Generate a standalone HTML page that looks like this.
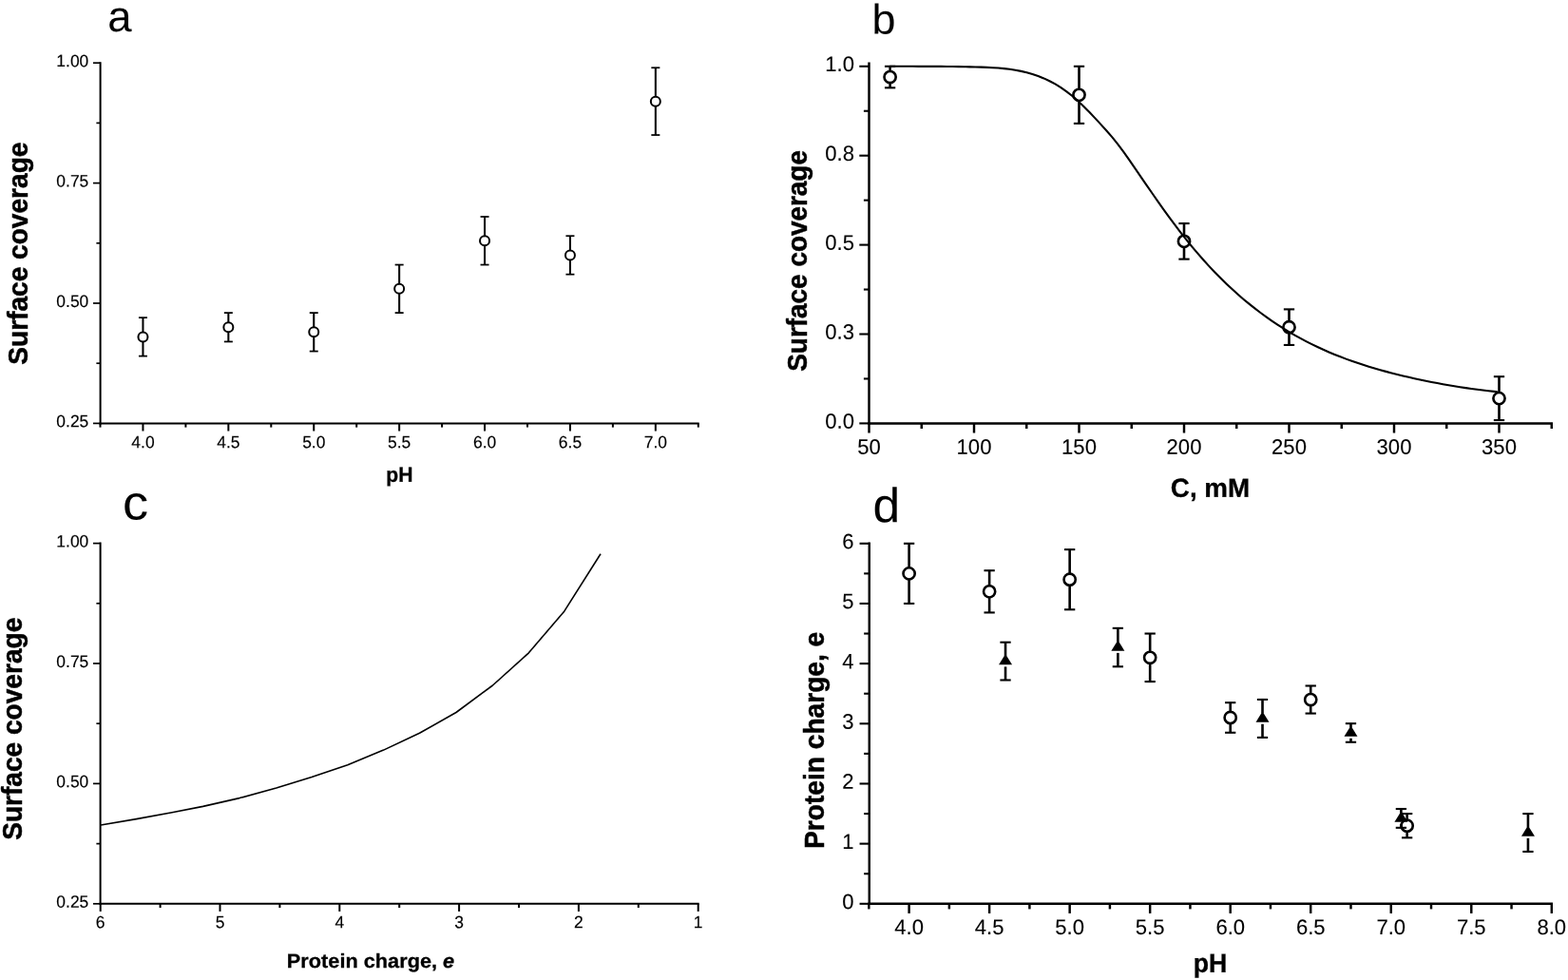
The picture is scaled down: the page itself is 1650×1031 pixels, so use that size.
<!DOCTYPE html>
<html lang="en">
<head>
<meta charset="utf-8">
<title>Surface coverage and protein charge</title>
<style>
html,body{margin:0;padding:0;background:#fff;}
body{width:1650px;height:1031px;overflow:hidden;}
svg{display:block;font-family:"Liberation Sans", sans-serif;fill:#000;}
</style>
</head>
<body>
<svg width="1650" height="1031" viewBox="0 0 1650 1031">
<rect x="0" y="0" width="1650" height="1031" fill="#fff"/>
<line x1="105.60" y1="65.20" x2="105.60" y2="446.40" stroke="#000" stroke-width="2.0" stroke-linecap="butt"/>
<line x1="104.60" y1="445.40" x2="735.70" y2="445.40" stroke="#000" stroke-width="2.0" stroke-linecap="butt"/>
<line x1="98.00" y1="66.20" x2="105.60" y2="66.20" stroke="#000" stroke-width="1.7" stroke-linecap="butt"/>
<text transform="translate(93.30,70.15) rotate(0.05) scale(0.97,1)" font-size="18.0" text-anchor="end" font-weight="normal" stroke="#000" stroke-width="0.15">1.00</text>
<line x1="98.00" y1="192.60" x2="105.60" y2="192.60" stroke="#000" stroke-width="1.7" stroke-linecap="butt"/>
<text transform="translate(93.30,196.55) rotate(0.05) scale(0.97,1)" font-size="18.0" text-anchor="end" font-weight="normal" stroke="#000" stroke-width="0.15">0.75</text>
<line x1="98.00" y1="319.00" x2="105.60" y2="319.00" stroke="#000" stroke-width="1.7" stroke-linecap="butt"/>
<text transform="translate(93.30,322.95) rotate(0.05) scale(0.97,1)" font-size="18.0" text-anchor="end" font-weight="normal" stroke="#000" stroke-width="0.15">0.50</text>
<line x1="98.00" y1="445.40" x2="105.60" y2="445.40" stroke="#000" stroke-width="1.7" stroke-linecap="butt"/>
<text transform="translate(93.30,449.35) rotate(0.05) scale(0.97,1)" font-size="18.0" text-anchor="end" font-weight="normal" stroke="#000" stroke-width="0.15">0.25</text>
<line x1="101.40" y1="129.40" x2="105.60" y2="129.40" stroke="#000" stroke-width="1.7" stroke-linecap="butt"/>
<line x1="101.40" y1="255.80" x2="105.60" y2="255.80" stroke="#000" stroke-width="1.7" stroke-linecap="butt"/>
<line x1="101.40" y1="382.20" x2="105.60" y2="382.20" stroke="#000" stroke-width="1.7" stroke-linecap="butt"/>
<line x1="150.45" y1="445.40" x2="150.45" y2="453.50" stroke="#000" stroke-width="2.0" stroke-linecap="butt"/>
<text transform="translate(150.45,471.30) rotate(0.05) scale(0.97,1)" font-size="18.0" text-anchor="middle" font-weight="normal" stroke="#000" stroke-width="0.15">4.0</text>
<line x1="240.35" y1="445.40" x2="240.35" y2="453.50" stroke="#000" stroke-width="2.0" stroke-linecap="butt"/>
<text transform="translate(240.35,471.30) rotate(0.05) scale(0.97,1)" font-size="18.0" text-anchor="middle" font-weight="normal" stroke="#000" stroke-width="0.15">4.5</text>
<line x1="330.25" y1="445.40" x2="330.25" y2="453.50" stroke="#000" stroke-width="2.0" stroke-linecap="butt"/>
<text transform="translate(330.25,471.30) rotate(0.05) scale(0.97,1)" font-size="18.0" text-anchor="middle" font-weight="normal" stroke="#000" stroke-width="0.15">5.0</text>
<line x1="420.15" y1="445.40" x2="420.15" y2="453.50" stroke="#000" stroke-width="2.0" stroke-linecap="butt"/>
<text transform="translate(420.15,471.30) rotate(0.05) scale(0.97,1)" font-size="18.0" text-anchor="middle" font-weight="normal" stroke="#000" stroke-width="0.15">5.5</text>
<line x1="510.05" y1="445.40" x2="510.05" y2="453.50" stroke="#000" stroke-width="2.0" stroke-linecap="butt"/>
<text transform="translate(510.05,471.30) rotate(0.05) scale(0.97,1)" font-size="18.0" text-anchor="middle" font-weight="normal" stroke="#000" stroke-width="0.15">6.0</text>
<line x1="599.95" y1="445.40" x2="599.95" y2="453.50" stroke="#000" stroke-width="2.0" stroke-linecap="butt"/>
<text transform="translate(599.95,471.30) rotate(0.05) scale(0.97,1)" font-size="18.0" text-anchor="middle" font-weight="normal" stroke="#000" stroke-width="0.15">6.5</text>
<line x1="689.85" y1="445.40" x2="689.85" y2="453.50" stroke="#000" stroke-width="2.0" stroke-linecap="butt"/>
<text transform="translate(689.85,471.30) rotate(0.05) scale(0.97,1)" font-size="18.0" text-anchor="middle" font-weight="normal" stroke="#000" stroke-width="0.15">7.0</text>
<line x1="105.50" y1="445.40" x2="105.50" y2="449.60" stroke="#000" stroke-width="2.0" stroke-linecap="butt"/>
<line x1="195.40" y1="445.40" x2="195.40" y2="449.60" stroke="#000" stroke-width="2.0" stroke-linecap="butt"/>
<line x1="285.30" y1="445.40" x2="285.30" y2="449.60" stroke="#000" stroke-width="2.0" stroke-linecap="butt"/>
<line x1="375.20" y1="445.40" x2="375.20" y2="449.60" stroke="#000" stroke-width="2.0" stroke-linecap="butt"/>
<line x1="465.10" y1="445.40" x2="465.10" y2="449.60" stroke="#000" stroke-width="2.0" stroke-linecap="butt"/>
<line x1="555.00" y1="445.40" x2="555.00" y2="449.60" stroke="#000" stroke-width="2.0" stroke-linecap="butt"/>
<line x1="644.90" y1="445.40" x2="644.90" y2="449.60" stroke="#000" stroke-width="2.0" stroke-linecap="butt"/>
<line x1="734.80" y1="445.40" x2="734.80" y2="449.60" stroke="#000" stroke-width="2.0" stroke-linecap="butt"/>
<text transform="translate(420.40,506.80) rotate(0.05) scale(0.96,1)" font-size="22" text-anchor="middle" font-weight="bold" stroke="#000" stroke-width="0.3">pH</text>
<text transform="translate(29.00,266.65) rotate(-90) scale(0.946,1)" font-size="29.7" text-anchor="middle" font-weight="bold" stroke="#000" stroke-width="0.5">Surface coverage</text>
<text transform="translate(113.20,33.00) rotate(0.05) scale(1.0,1)" font-size="45.5" text-anchor="start" font-weight="normal">a</text>
<line x1="150.45" y1="334.17" x2="150.45" y2="374.62" stroke="#000" stroke-width="2.05" stroke-linecap="butt"/>
<line x1="145.95" y1="334.17" x2="154.95" y2="334.17" stroke="#000" stroke-width="1.75" stroke-linecap="butt"/>
<line x1="145.95" y1="374.62" x2="154.95" y2="374.62" stroke="#000" stroke-width="1.75" stroke-linecap="butt"/>
<circle cx="150.45" cy="354.39" r="5.0" fill="#fff" stroke="#000" stroke-width="2.0"/>
<line x1="240.35" y1="329.11" x2="240.35" y2="359.45" stroke="#000" stroke-width="2.05" stroke-linecap="butt"/>
<line x1="235.85" y1="329.11" x2="244.85" y2="329.11" stroke="#000" stroke-width="1.75" stroke-linecap="butt"/>
<line x1="235.85" y1="359.45" x2="244.85" y2="359.45" stroke="#000" stroke-width="1.75" stroke-linecap="butt"/>
<circle cx="240.35" cy="344.28" r="5.0" fill="#fff" stroke="#000" stroke-width="2.0"/>
<line x1="330.25" y1="329.11" x2="330.25" y2="369.56" stroke="#000" stroke-width="2.05" stroke-linecap="butt"/>
<line x1="325.75" y1="329.11" x2="334.75" y2="329.11" stroke="#000" stroke-width="1.75" stroke-linecap="butt"/>
<line x1="325.75" y1="369.56" x2="334.75" y2="369.56" stroke="#000" stroke-width="1.75" stroke-linecap="butt"/>
<circle cx="330.25" cy="349.34" r="5.0" fill="#fff" stroke="#000" stroke-width="2.0"/>
<line x1="420.15" y1="278.55" x2="420.15" y2="329.11" stroke="#000" stroke-width="2.05" stroke-linecap="butt"/>
<line x1="415.65" y1="278.55" x2="424.65" y2="278.55" stroke="#000" stroke-width="1.75" stroke-linecap="butt"/>
<line x1="415.65" y1="329.11" x2="424.65" y2="329.11" stroke="#000" stroke-width="1.75" stroke-linecap="butt"/>
<circle cx="420.15" cy="303.83" r="5.0" fill="#fff" stroke="#000" stroke-width="2.0"/>
<line x1="510.05" y1="227.99" x2="510.05" y2="278.55" stroke="#000" stroke-width="2.05" stroke-linecap="butt"/>
<line x1="505.55" y1="227.99" x2="514.55" y2="227.99" stroke="#000" stroke-width="1.75" stroke-linecap="butt"/>
<line x1="505.55" y1="278.55" x2="514.55" y2="278.55" stroke="#000" stroke-width="1.75" stroke-linecap="butt"/>
<circle cx="510.05" cy="253.27" r="5.0" fill="#fff" stroke="#000" stroke-width="2.0"/>
<line x1="599.95" y1="248.22" x2="599.95" y2="288.66" stroke="#000" stroke-width="2.05" stroke-linecap="butt"/>
<line x1="595.45" y1="248.22" x2="604.45" y2="248.22" stroke="#000" stroke-width="1.75" stroke-linecap="butt"/>
<line x1="595.45" y1="288.66" x2="604.45" y2="288.66" stroke="#000" stroke-width="1.75" stroke-linecap="butt"/>
<circle cx="599.95" cy="268.44" r="5.0" fill="#fff" stroke="#000" stroke-width="2.0"/>
<line x1="689.85" y1="71.26" x2="689.85" y2="142.04" stroke="#000" stroke-width="2.05" stroke-linecap="butt"/>
<line x1="685.35" y1="71.26" x2="694.35" y2="71.26" stroke="#000" stroke-width="1.75" stroke-linecap="butt"/>
<line x1="685.35" y1="142.04" x2="694.35" y2="142.04" stroke="#000" stroke-width="1.75" stroke-linecap="butt"/>
<circle cx="689.85" cy="106.65" r="5.0" fill="#fff" stroke="#000" stroke-width="2.0"/>
<line x1="105.60" y1="570.60" x2="105.60" y2="951.80" stroke="#000" stroke-width="2.0" stroke-linecap="butt"/>
<line x1="104.60" y1="950.80" x2="735.70" y2="950.80" stroke="#000" stroke-width="2.0" stroke-linecap="butt"/>
<line x1="98.00" y1="571.60" x2="105.60" y2="571.60" stroke="#000" stroke-width="1.7" stroke-linecap="butt"/>
<text transform="translate(93.30,575.55) rotate(0.05) scale(0.97,1)" font-size="18.0" text-anchor="end" font-weight="normal" stroke="#000" stroke-width="0.15">1.00</text>
<line x1="98.00" y1="698.00" x2="105.60" y2="698.00" stroke="#000" stroke-width="1.7" stroke-linecap="butt"/>
<text transform="translate(93.30,701.95) rotate(0.05) scale(0.97,1)" font-size="18.0" text-anchor="end" font-weight="normal" stroke="#000" stroke-width="0.15">0.75</text>
<line x1="98.00" y1="824.40" x2="105.60" y2="824.40" stroke="#000" stroke-width="1.7" stroke-linecap="butt"/>
<text transform="translate(93.30,828.35) rotate(0.05) scale(0.97,1)" font-size="18.0" text-anchor="end" font-weight="normal" stroke="#000" stroke-width="0.15">0.50</text>
<line x1="98.00" y1="950.80" x2="105.60" y2="950.80" stroke="#000" stroke-width="1.7" stroke-linecap="butt"/>
<text transform="translate(93.30,954.75) rotate(0.05) scale(0.97,1)" font-size="18.0" text-anchor="end" font-weight="normal" stroke="#000" stroke-width="0.15">0.25</text>
<line x1="101.40" y1="634.80" x2="105.60" y2="634.80" stroke="#000" stroke-width="1.7" stroke-linecap="butt"/>
<line x1="101.40" y1="761.20" x2="105.60" y2="761.20" stroke="#000" stroke-width="1.7" stroke-linecap="butt"/>
<line x1="101.40" y1="887.60" x2="105.60" y2="887.60" stroke="#000" stroke-width="1.7" stroke-linecap="butt"/>
<line x1="105.70" y1="950.80" x2="105.70" y2="958.90" stroke="#000" stroke-width="2.0" stroke-linecap="butt"/>
<text transform="translate(105.70,976.30) rotate(0.05) scale(0.97,1)" font-size="18.0" text-anchor="middle" font-weight="normal" stroke="#000" stroke-width="0.15">6</text>
<line x1="231.50" y1="950.80" x2="231.50" y2="958.90" stroke="#000" stroke-width="2.0" stroke-linecap="butt"/>
<text transform="translate(231.50,976.30) rotate(0.05) scale(0.97,1)" font-size="18.0" text-anchor="middle" font-weight="normal" stroke="#000" stroke-width="0.15">5</text>
<line x1="357.30" y1="950.80" x2="357.30" y2="958.90" stroke="#000" stroke-width="2.0" stroke-linecap="butt"/>
<text transform="translate(357.30,976.30) rotate(0.05) scale(0.97,1)" font-size="18.0" text-anchor="middle" font-weight="normal" stroke="#000" stroke-width="0.15">4</text>
<line x1="483.10" y1="950.80" x2="483.10" y2="958.90" stroke="#000" stroke-width="2.0" stroke-linecap="butt"/>
<text transform="translate(483.10,976.30) rotate(0.05) scale(0.97,1)" font-size="18.0" text-anchor="middle" font-weight="normal" stroke="#000" stroke-width="0.15">3</text>
<line x1="608.90" y1="950.80" x2="608.90" y2="958.90" stroke="#000" stroke-width="2.0" stroke-linecap="butt"/>
<text transform="translate(608.90,976.30) rotate(0.05) scale(0.97,1)" font-size="18.0" text-anchor="middle" font-weight="normal" stroke="#000" stroke-width="0.15">2</text>
<line x1="734.70" y1="950.80" x2="734.70" y2="958.90" stroke="#000" stroke-width="2.0" stroke-linecap="butt"/>
<text transform="translate(734.70,976.30) rotate(0.05) scale(0.97,1)" font-size="18.0" text-anchor="middle" font-weight="normal" stroke="#000" stroke-width="0.15">1</text>
<line x1="168.60" y1="950.80" x2="168.60" y2="955.00" stroke="#000" stroke-width="2.0" stroke-linecap="butt"/>
<line x1="294.40" y1="950.80" x2="294.40" y2="955.00" stroke="#000" stroke-width="2.0" stroke-linecap="butt"/>
<line x1="420.20" y1="950.80" x2="420.20" y2="955.00" stroke="#000" stroke-width="2.0" stroke-linecap="butt"/>
<line x1="546.00" y1="950.80" x2="546.00" y2="955.00" stroke="#000" stroke-width="2.0" stroke-linecap="butt"/>
<line x1="671.80" y1="950.80" x2="671.80" y2="955.00" stroke="#000" stroke-width="2.0" stroke-linecap="butt"/>
<text transform="translate(390.0,1018.0) rotate(0.05) scale(1.045,1)" font-size="20.8" text-anchor="middle" font-weight="bold" stroke="#000" stroke-width="0.3">Protein charge, <tspan font-style="italic">e</tspan></text>
<text transform="translate(23.20,766.80) rotate(-90) scale(0.946,1)" font-size="29.7" text-anchor="middle" font-weight="bold" stroke="#000" stroke-width="0.5">Surface coverage</text>
<text transform="translate(142.60,546.55) rotate(0.05) scale(1.064,1)" font-size="51.0" text-anchor="middle" font-weight="normal">c</text>
<polyline fill="none" stroke="#000" stroke-width="1.6" stroke-linejoin="round" points="106.0,868.0 143.5,861.6 181.0,854.8 213.6,848.4 252.0,839.6 290.7,829.0 328.0,817.6 365.8,804.7 403.6,789.1 441.5,771.3 480.0,749.5 518.5,721.0 556.4,686.8 593.9,642.9 632.0,582.8"/>
<line x1="914.50" y1="65.58" x2="914.50" y2="446.62" stroke="#000" stroke-width="2.45" stroke-linecap="butt"/>
<line x1="913.27" y1="445.40" x2="1634.02" y2="445.40" stroke="#000" stroke-width="2.45" stroke-linecap="butt"/>
<line x1="904.30" y1="69.80" x2="914.50" y2="69.80" stroke="#000" stroke-width="2.1" stroke-linecap="butt"/>
<text transform="translate(899.00,75.10) rotate(0.05) scale(0.98,1)" font-size="22.5" text-anchor="end" font-weight="normal" stroke="#000" stroke-width="0.1">1.0</text>
<line x1="904.30" y1="163.70" x2="914.50" y2="163.70" stroke="#000" stroke-width="2.1" stroke-linecap="butt"/>
<text transform="translate(899.00,169.00) rotate(0.05) scale(0.98,1)" font-size="22.5" text-anchor="end" font-weight="normal" stroke="#000" stroke-width="0.1">0.8</text>
<line x1="904.30" y1="257.60" x2="914.50" y2="257.60" stroke="#000" stroke-width="2.1" stroke-linecap="butt"/>
<text transform="translate(899.00,262.90) rotate(0.05) scale(0.98,1)" font-size="22.5" text-anchor="end" font-weight="normal" stroke="#000" stroke-width="0.1">0.5</text>
<line x1="904.30" y1="351.50" x2="914.50" y2="351.50" stroke="#000" stroke-width="2.1" stroke-linecap="butt"/>
<text transform="translate(899.00,356.80) rotate(0.05) scale(0.98,1)" font-size="22.5" text-anchor="end" font-weight="normal" stroke="#000" stroke-width="0.1">0.3</text>
<line x1="904.30" y1="445.40" x2="914.50" y2="445.40" stroke="#000" stroke-width="2.1" stroke-linecap="butt"/>
<text transform="translate(899.00,450.70) rotate(0.05) scale(0.98,1)" font-size="22.5" text-anchor="end" font-weight="normal" stroke="#000" stroke-width="0.1">0.0</text>
<line x1="908.90" y1="116.75" x2="914.50" y2="116.75" stroke="#000" stroke-width="2.1" stroke-linecap="butt"/>
<line x1="908.90" y1="210.65" x2="914.50" y2="210.65" stroke="#000" stroke-width="2.1" stroke-linecap="butt"/>
<line x1="908.90" y1="304.55" x2="914.50" y2="304.55" stroke="#000" stroke-width="2.1" stroke-linecap="butt"/>
<line x1="908.90" y1="398.45" x2="914.50" y2="398.45" stroke="#000" stroke-width="2.1" stroke-linecap="butt"/>
<line x1="914.50" y1="445.40" x2="914.50" y2="455.50" stroke="#000" stroke-width="2.45" stroke-linecap="butt"/>
<text transform="translate(914.50,477.70) rotate(0.05) scale(0.98,1)" font-size="22.5" text-anchor="middle" font-weight="normal" stroke="#000" stroke-width="0.1">50</text>
<line x1="1025.00" y1="445.40" x2="1025.00" y2="455.50" stroke="#000" stroke-width="2.45" stroke-linecap="butt"/>
<text transform="translate(1025.00,477.70) rotate(0.05) scale(0.98,1)" font-size="22.5" text-anchor="middle" font-weight="normal" stroke="#000" stroke-width="0.1">100</text>
<line x1="1135.50" y1="445.40" x2="1135.50" y2="455.50" stroke="#000" stroke-width="2.45" stroke-linecap="butt"/>
<text transform="translate(1135.50,477.70) rotate(0.05) scale(0.98,1)" font-size="22.5" text-anchor="middle" font-weight="normal" stroke="#000" stroke-width="0.1">150</text>
<line x1="1246.00" y1="445.40" x2="1246.00" y2="455.50" stroke="#000" stroke-width="2.45" stroke-linecap="butt"/>
<text transform="translate(1246.00,477.70) rotate(0.05) scale(0.98,1)" font-size="22.5" text-anchor="middle" font-weight="normal" stroke="#000" stroke-width="0.1">200</text>
<line x1="1356.50" y1="445.40" x2="1356.50" y2="455.50" stroke="#000" stroke-width="2.45" stroke-linecap="butt"/>
<text transform="translate(1356.50,477.70) rotate(0.05) scale(0.98,1)" font-size="22.5" text-anchor="middle" font-weight="normal" stroke="#000" stroke-width="0.1">250</text>
<line x1="1467.00" y1="445.40" x2="1467.00" y2="455.50" stroke="#000" stroke-width="2.45" stroke-linecap="butt"/>
<text transform="translate(1467.00,477.70) rotate(0.05) scale(0.98,1)" font-size="22.5" text-anchor="middle" font-weight="normal" stroke="#000" stroke-width="0.1">300</text>
<line x1="1577.50" y1="445.40" x2="1577.50" y2="455.50" stroke="#000" stroke-width="2.45" stroke-linecap="butt"/>
<text transform="translate(1577.50,477.70) rotate(0.05) scale(0.98,1)" font-size="22.5" text-anchor="middle" font-weight="normal" stroke="#000" stroke-width="0.1">350</text>
<line x1="969.75" y1="445.40" x2="969.75" y2="451.00" stroke="#000" stroke-width="2.45" stroke-linecap="butt"/>
<line x1="1080.25" y1="445.40" x2="1080.25" y2="451.00" stroke="#000" stroke-width="2.45" stroke-linecap="butt"/>
<line x1="1190.75" y1="445.40" x2="1190.75" y2="451.00" stroke="#000" stroke-width="2.45" stroke-linecap="butt"/>
<line x1="1301.25" y1="445.40" x2="1301.25" y2="451.00" stroke="#000" stroke-width="2.45" stroke-linecap="butt"/>
<line x1="1411.75" y1="445.40" x2="1411.75" y2="451.00" stroke="#000" stroke-width="2.45" stroke-linecap="butt"/>
<line x1="1522.25" y1="445.40" x2="1522.25" y2="451.00" stroke="#000" stroke-width="2.45" stroke-linecap="butt"/>
<line x1="1632.75" y1="445.40" x2="1632.75" y2="451.00" stroke="#000" stroke-width="2.45" stroke-linecap="butt"/>
<text transform="translate(1273.55,522.80) rotate(0.05) scale(1.0,1)" font-size="27.8" text-anchor="middle" font-weight="bold" stroke="#000" stroke-width="0.3">C, mM</text>
<text transform="translate(849.10,274.40) rotate(-90) scale(0.94,1)" font-size="29.7" text-anchor="middle" font-weight="bold" stroke="#000" stroke-width="0.5">Surface coverage</text>
<text transform="translate(917.50,35.50) rotate(0.05) scale(1.02,1)" font-size="44.0" text-anchor="start" font-weight="normal">b</text>
<line x1="936.60" y1="69.80" x2="936.60" y2="92.34" stroke="#000" stroke-width="2.6" stroke-linecap="butt"/>
<line x1="930.95" y1="69.80" x2="942.25" y2="69.80" stroke="#000" stroke-width="2.1" stroke-linecap="butt"/>
<line x1="930.95" y1="92.34" x2="942.25" y2="92.34" stroke="#000" stroke-width="2.1" stroke-linecap="butt"/>
<circle cx="936.60" cy="81.07" r="6.1" fill="#fff" stroke="#000" stroke-width="2.6"/>
<line x1="1135.50" y1="69.80" x2="1135.50" y2="129.90" stroke="#000" stroke-width="2.6" stroke-linecap="butt"/>
<line x1="1129.85" y1="69.80" x2="1141.15" y2="69.80" stroke="#000" stroke-width="2.1" stroke-linecap="butt"/>
<line x1="1129.85" y1="129.90" x2="1141.15" y2="129.90" stroke="#000" stroke-width="2.1" stroke-linecap="butt"/>
<circle cx="1135.50" cy="99.85" r="6.1" fill="#fff" stroke="#000" stroke-width="2.6"/>
<line x1="1246.00" y1="235.06" x2="1246.00" y2="272.62" stroke="#000" stroke-width="2.6" stroke-linecap="butt"/>
<line x1="1240.35" y1="235.06" x2="1251.65" y2="235.06" stroke="#000" stroke-width="2.1" stroke-linecap="butt"/>
<line x1="1240.35" y1="272.62" x2="1251.65" y2="272.62" stroke="#000" stroke-width="2.1" stroke-linecap="butt"/>
<circle cx="1246.00" cy="253.84" r="6.1" fill="#fff" stroke="#000" stroke-width="2.6"/>
<line x1="1356.50" y1="325.40" x2="1356.50" y2="362.96" stroke="#000" stroke-width="2.6" stroke-linecap="butt"/>
<line x1="1350.85" y1="325.40" x2="1362.15" y2="325.40" stroke="#000" stroke-width="2.1" stroke-linecap="butt"/>
<line x1="1350.85" y1="362.96" x2="1362.15" y2="362.96" stroke="#000" stroke-width="2.1" stroke-linecap="butt"/>
<circle cx="1356.50" cy="344.18" r="6.1" fill="#fff" stroke="#000" stroke-width="2.6"/>
<line x1="1577.50" y1="396.20" x2="1577.50" y2="442.02" stroke="#000" stroke-width="2.6" stroke-linecap="butt"/>
<line x1="1571.85" y1="396.20" x2="1583.15" y2="396.20" stroke="#000" stroke-width="2.1" stroke-linecap="butt"/>
<line x1="1571.85" y1="442.02" x2="1583.15" y2="442.02" stroke="#000" stroke-width="2.1" stroke-linecap="butt"/>
<circle cx="1577.50" cy="419.11" r="6.1" fill="#fff" stroke="#000" stroke-width="2.6"/>
<polyline fill="none" stroke="#000" stroke-width="2.1" stroke-linejoin="round" points="936.4,69.79 942.4,69.80 948.4,69.81 954.4,69.82 960.4,69.82 966.4,69.83 972.4,69.84 978.4,69.86 984.4,69.89 990.4,69.92 996.4,69.97 1002.4,70.04 1008.4,70.12 1014.4,70.22 1020.4,70.34 1026.4,70.49 1032.4,70.67 1038.4,70.88 1044.4,71.18 1050.4,71.57 1056.4,72.11 1062.4,72.81 1068.4,73.72 1074.4,74.86 1080.4,76.27 1086.4,77.97 1092.4,80.01 1098.4,82.42 1104.4,85.21 1110.4,88.44 1116.4,92.13 1122.4,96.31 1128.4,101.02 1134.4,106.26 1140.4,111.95 1146.4,118.01 1152.4,124.35 1158.4,130.86 1164.4,137.48 1170.4,144.36 1176.4,151.79 1182.4,159.90 1188.4,168.45 1194.4,177.17 1200.4,185.90 1206.4,194.61 1212.4,203.26 1218.4,211.83 1224.4,220.28 1230.4,228.57 1236.4,236.68 1242.4,244.57 1248.4,252.21 1254.4,259.58 1260.4,266.69 1266.4,273.53 1272.4,280.13 1278.4,286.47 1284.4,292.57 1290.4,298.44 1296.4,304.08 1302.4,309.49 1308.4,314.68 1314.4,319.66 1320.4,324.44 1326.4,329.02 1332.4,333.40 1338.4,337.59 1344.4,341.60 1350.4,345.43 1356.4,349.09 1362.4,352.59 1368.4,355.93 1374.4,359.11 1380.4,362.15 1386.4,365.05 1392.4,367.81 1398.4,370.44 1404.4,372.95 1410.4,375.34 1416.4,377.62 1422.4,379.79 1428.4,381.86 1434.4,383.83 1440.4,385.71 1446.4,387.51 1452.4,389.23 1458.4,390.87 1464.4,392.44 1470.4,393.95 1476.4,395.41 1482.4,396.81 1488.4,398.16 1494.4,399.47 1500.4,400.72 1506.4,401.93 1512.4,403.08 1518.4,404.19 1524.4,405.25 1530.4,406.25 1536.4,407.21 1542.4,408.12 1548.4,408.98 1554.4,409.78 1560.4,410.54 1566.4,411.25 1572.4,411.90 1575.8,412.25"/>
<line x1="914.75" y1="570.57" x2="914.75" y2="952.02" stroke="#000" stroke-width="2.45" stroke-linecap="butt"/>
<line x1="913.52" y1="950.80" x2="1634.02" y2="950.80" stroke="#000" stroke-width="2.45" stroke-linecap="butt"/>
<line x1="904.55" y1="571.80" x2="914.75" y2="571.80" stroke="#000" stroke-width="2.1" stroke-linecap="butt"/>
<text transform="translate(898.60,577.20) rotate(0.05) scale(0.98,1)" font-size="22.5" text-anchor="end" font-weight="normal" stroke="#000" stroke-width="0.1">6</text>
<line x1="904.55" y1="634.97" x2="914.75" y2="634.97" stroke="#000" stroke-width="2.1" stroke-linecap="butt"/>
<text transform="translate(898.60,640.37) rotate(0.05) scale(0.98,1)" font-size="22.5" text-anchor="end" font-weight="normal" stroke="#000" stroke-width="0.1">5</text>
<line x1="904.55" y1="698.13" x2="914.75" y2="698.13" stroke="#000" stroke-width="2.1" stroke-linecap="butt"/>
<text transform="translate(898.60,703.53) rotate(0.05) scale(0.98,1)" font-size="22.5" text-anchor="end" font-weight="normal" stroke="#000" stroke-width="0.1">4</text>
<line x1="904.55" y1="761.30" x2="914.75" y2="761.30" stroke="#000" stroke-width="2.1" stroke-linecap="butt"/>
<text transform="translate(898.60,766.70) rotate(0.05) scale(0.98,1)" font-size="22.5" text-anchor="end" font-weight="normal" stroke="#000" stroke-width="0.1">3</text>
<line x1="904.55" y1="824.47" x2="914.75" y2="824.47" stroke="#000" stroke-width="2.1" stroke-linecap="butt"/>
<text transform="translate(898.60,829.87) rotate(0.05) scale(0.98,1)" font-size="22.5" text-anchor="end" font-weight="normal" stroke="#000" stroke-width="0.1">2</text>
<line x1="904.55" y1="887.63" x2="914.75" y2="887.63" stroke="#000" stroke-width="2.1" stroke-linecap="butt"/>
<text transform="translate(898.60,893.03) rotate(0.05) scale(0.98,1)" font-size="22.5" text-anchor="end" font-weight="normal" stroke="#000" stroke-width="0.1">1</text>
<line x1="904.55" y1="950.80" x2="914.75" y2="950.80" stroke="#000" stroke-width="2.1" stroke-linecap="butt"/>
<text transform="translate(898.60,956.20) rotate(0.05) scale(0.98,1)" font-size="22.5" text-anchor="end" font-weight="normal" stroke="#000" stroke-width="0.1">0</text>
<line x1="909.15" y1="603.38" x2="914.75" y2="603.38" stroke="#000" stroke-width="2.1" stroke-linecap="butt"/>
<line x1="909.15" y1="666.55" x2="914.75" y2="666.55" stroke="#000" stroke-width="2.1" stroke-linecap="butt"/>
<line x1="909.15" y1="729.72" x2="914.75" y2="729.72" stroke="#000" stroke-width="2.1" stroke-linecap="butt"/>
<line x1="909.15" y1="792.88" x2="914.75" y2="792.88" stroke="#000" stroke-width="2.1" stroke-linecap="butt"/>
<line x1="909.15" y1="856.05" x2="914.75" y2="856.05" stroke="#000" stroke-width="2.1" stroke-linecap="butt"/>
<line x1="909.15" y1="919.22" x2="914.75" y2="919.22" stroke="#000" stroke-width="2.1" stroke-linecap="butt"/>
<line x1="956.60" y1="950.80" x2="956.60" y2="960.90" stroke="#000" stroke-width="2.45" stroke-linecap="butt"/>
<text transform="translate(956.60,983.00) rotate(0.05) scale(0.98,1)" font-size="22.5" text-anchor="middle" font-weight="normal" stroke="#000" stroke-width="0.1">4.0</text>
<line x1="1041.12" y1="950.80" x2="1041.12" y2="960.90" stroke="#000" stroke-width="2.45" stroke-linecap="butt"/>
<text transform="translate(1041.12,983.00) rotate(0.05) scale(0.98,1)" font-size="22.5" text-anchor="middle" font-weight="normal" stroke="#000" stroke-width="0.1">4.5</text>
<line x1="1125.65" y1="950.80" x2="1125.65" y2="960.90" stroke="#000" stroke-width="2.45" stroke-linecap="butt"/>
<text transform="translate(1125.65,983.00) rotate(0.05) scale(0.98,1)" font-size="22.5" text-anchor="middle" font-weight="normal" stroke="#000" stroke-width="0.1">5.0</text>
<line x1="1210.17" y1="950.80" x2="1210.17" y2="960.90" stroke="#000" stroke-width="2.45" stroke-linecap="butt"/>
<text transform="translate(1210.17,983.00) rotate(0.05) scale(0.98,1)" font-size="22.5" text-anchor="middle" font-weight="normal" stroke="#000" stroke-width="0.1">5.5</text>
<line x1="1294.70" y1="950.80" x2="1294.70" y2="960.90" stroke="#000" stroke-width="2.45" stroke-linecap="butt"/>
<text transform="translate(1294.70,983.00) rotate(0.05) scale(0.98,1)" font-size="22.5" text-anchor="middle" font-weight="normal" stroke="#000" stroke-width="0.1">6.0</text>
<line x1="1379.22" y1="950.80" x2="1379.22" y2="960.90" stroke="#000" stroke-width="2.45" stroke-linecap="butt"/>
<text transform="translate(1379.22,983.00) rotate(0.05) scale(0.98,1)" font-size="22.5" text-anchor="middle" font-weight="normal" stroke="#000" stroke-width="0.1">6.5</text>
<line x1="1463.75" y1="950.80" x2="1463.75" y2="960.90" stroke="#000" stroke-width="2.45" stroke-linecap="butt"/>
<text transform="translate(1463.75,983.00) rotate(0.05) scale(0.98,1)" font-size="22.5" text-anchor="middle" font-weight="normal" stroke="#000" stroke-width="0.1">7.0</text>
<line x1="1548.28" y1="950.80" x2="1548.28" y2="960.90" stroke="#000" stroke-width="2.45" stroke-linecap="butt"/>
<text transform="translate(1548.28,983.00) rotate(0.05) scale(0.98,1)" font-size="22.5" text-anchor="middle" font-weight="normal" stroke="#000" stroke-width="0.1">7.5</text>
<line x1="1632.80" y1="950.80" x2="1632.80" y2="960.90" stroke="#000" stroke-width="2.45" stroke-linecap="butt"/>
<text transform="translate(1632.80,983.00) rotate(0.05) scale(0.98,1)" font-size="22.5" text-anchor="middle" font-weight="normal" stroke="#000" stroke-width="0.1">8.0</text>
<line x1="914.34" y1="950.80" x2="914.34" y2="956.40" stroke="#000" stroke-width="2.45" stroke-linecap="butt"/>
<line x1="998.86" y1="950.80" x2="998.86" y2="956.40" stroke="#000" stroke-width="2.45" stroke-linecap="butt"/>
<line x1="1083.39" y1="950.80" x2="1083.39" y2="956.40" stroke="#000" stroke-width="2.45" stroke-linecap="butt"/>
<line x1="1167.91" y1="950.80" x2="1167.91" y2="956.40" stroke="#000" stroke-width="2.45" stroke-linecap="butt"/>
<line x1="1252.44" y1="950.80" x2="1252.44" y2="956.40" stroke="#000" stroke-width="2.45" stroke-linecap="butt"/>
<line x1="1336.96" y1="950.80" x2="1336.96" y2="956.40" stroke="#000" stroke-width="2.45" stroke-linecap="butt"/>
<line x1="1421.49" y1="950.80" x2="1421.49" y2="956.40" stroke="#000" stroke-width="2.45" stroke-linecap="butt"/>
<line x1="1506.01" y1="950.80" x2="1506.01" y2="956.40" stroke="#000" stroke-width="2.45" stroke-linecap="butt"/>
<line x1="1590.54" y1="950.80" x2="1590.54" y2="956.40" stroke="#000" stroke-width="2.45" stroke-linecap="butt"/>
<text transform="translate(1273.60,1022.80) rotate(0.05) scale(0.96,1)" font-size="27.8" text-anchor="middle" font-weight="bold" stroke="#000" stroke-width="0.3">pH</text>
<text transform="translate(867.30,778.85) rotate(-90) scale(0.97,1)" font-size="29.0" text-anchor="middle" font-weight="bold" stroke="#000" stroke-width="0.5">Protein charge, e</text>
<text transform="translate(918.40,549.20) rotate(0.05) scale(1.01,1)" font-size="51.0" text-anchor="start" font-weight="normal">d</text>
<line x1="956.60" y1="571.80" x2="956.60" y2="634.97" stroke="#000" stroke-width="2.6" stroke-linecap="butt"/>
<line x1="950.95" y1="571.80" x2="962.25" y2="571.80" stroke="#000" stroke-width="2.1" stroke-linecap="butt"/>
<line x1="950.95" y1="634.97" x2="962.25" y2="634.97" stroke="#000" stroke-width="2.1" stroke-linecap="butt"/>
<circle cx="956.60" cy="603.38" r="6.1" fill="#fff" stroke="#000" stroke-width="2.6"/>
<line x1="1041.12" y1="600.22" x2="1041.12" y2="644.44" stroke="#000" stroke-width="2.6" stroke-linecap="butt"/>
<line x1="1035.47" y1="600.22" x2="1046.78" y2="600.22" stroke="#000" stroke-width="2.1" stroke-linecap="butt"/>
<line x1="1035.47" y1="644.44" x2="1046.78" y2="644.44" stroke="#000" stroke-width="2.1" stroke-linecap="butt"/>
<circle cx="1041.12" cy="622.33" r="6.1" fill="#fff" stroke="#000" stroke-width="2.6"/>
<line x1="1125.65" y1="578.12" x2="1125.65" y2="641.28" stroke="#000" stroke-width="2.6" stroke-linecap="butt"/>
<line x1="1120.00" y1="578.12" x2="1131.30" y2="578.12" stroke="#000" stroke-width="2.1" stroke-linecap="butt"/>
<line x1="1120.00" y1="641.28" x2="1131.30" y2="641.28" stroke="#000" stroke-width="2.1" stroke-linecap="butt"/>
<circle cx="1125.65" cy="609.70" r="6.1" fill="#fff" stroke="#000" stroke-width="2.6"/>
<line x1="1210.17" y1="666.55" x2="1210.17" y2="717.08" stroke="#000" stroke-width="2.6" stroke-linecap="butt"/>
<line x1="1204.52" y1="666.55" x2="1215.83" y2="666.55" stroke="#000" stroke-width="2.1" stroke-linecap="butt"/>
<line x1="1204.52" y1="717.08" x2="1215.83" y2="717.08" stroke="#000" stroke-width="2.1" stroke-linecap="butt"/>
<circle cx="1210.17" cy="691.82" r="6.1" fill="#fff" stroke="#000" stroke-width="2.6"/>
<line x1="1294.70" y1="739.19" x2="1294.70" y2="770.77" stroke="#000" stroke-width="2.6" stroke-linecap="butt"/>
<line x1="1289.05" y1="739.19" x2="1300.35" y2="739.19" stroke="#000" stroke-width="2.1" stroke-linecap="butt"/>
<line x1="1289.05" y1="770.77" x2="1300.35" y2="770.77" stroke="#000" stroke-width="2.1" stroke-linecap="butt"/>
<circle cx="1294.70" cy="754.98" r="6.1" fill="#fff" stroke="#000" stroke-width="2.6"/>
<line x1="1379.22" y1="721.50" x2="1379.22" y2="750.56" stroke="#000" stroke-width="2.6" stroke-linecap="butt"/>
<line x1="1373.57" y1="721.50" x2="1384.88" y2="721.50" stroke="#000" stroke-width="2.1" stroke-linecap="butt"/>
<line x1="1373.57" y1="750.56" x2="1384.88" y2="750.56" stroke="#000" stroke-width="2.1" stroke-linecap="butt"/>
<circle cx="1379.22" cy="736.03" r="6.1" fill="#fff" stroke="#000" stroke-width="2.6"/>
<line x1="1480.65" y1="856.05" x2="1480.65" y2="881.32" stroke="#000" stroke-width="2.6" stroke-linecap="butt"/>
<line x1="1475.00" y1="856.05" x2="1486.30" y2="856.05" stroke="#000" stroke-width="2.1" stroke-linecap="butt"/>
<line x1="1475.00" y1="881.32" x2="1486.30" y2="881.32" stroke="#000" stroke-width="2.1" stroke-linecap="butt"/>
<circle cx="1480.65" cy="868.68" r="6.1" fill="#fff" stroke="#000" stroke-width="2.6"/>
<line x1="1052.38" y1="675.71" x2="1063.68" y2="675.71" stroke="#000" stroke-width="2.1" stroke-linecap="butt"/>
<line x1="1052.38" y1="715.50" x2="1063.68" y2="715.50" stroke="#000" stroke-width="2.1" stroke-linecap="butt"/>
<line x1="1058.03" y1="675.71" x2="1058.03" y2="690.11" stroke="#000" stroke-width="2.6" stroke-linecap="butt"/>
<line x1="1058.03" y1="701.41" x2="1058.03" y2="715.50" stroke="#000" stroke-width="2.6" stroke-linecap="butt"/>
<polygon points="1058.03,688.07 1065.03,699.37 1051.03,699.37" fill="#000"/>
<line x1="1170.71" y1="660.87" x2="1182.02" y2="660.87" stroke="#000" stroke-width="2.1" stroke-linecap="butt"/>
<line x1="1170.71" y1="701.29" x2="1182.02" y2="701.29" stroke="#000" stroke-width="2.1" stroke-linecap="butt"/>
<line x1="1176.37" y1="660.87" x2="1176.37" y2="675.58" stroke="#000" stroke-width="2.6" stroke-linecap="butt"/>
<line x1="1176.37" y1="686.88" x2="1176.37" y2="701.29" stroke="#000" stroke-width="2.6" stroke-linecap="butt"/>
<polygon points="1176.37,673.55 1183.37,684.85 1169.37,684.85" fill="#000"/>
<line x1="1322.86" y1="735.97" x2="1334.16" y2="735.97" stroke="#000" stroke-width="2.1" stroke-linecap="butt"/>
<line x1="1322.86" y1="775.89" x2="1334.16" y2="775.89" stroke="#000" stroke-width="2.1" stroke-linecap="butt"/>
<line x1="1328.51" y1="735.97" x2="1328.51" y2="750.43" stroke="#000" stroke-width="2.6" stroke-linecap="butt"/>
<line x1="1328.51" y1="761.73" x2="1328.51" y2="775.89" stroke="#000" stroke-width="2.6" stroke-linecap="butt"/>
<polygon points="1328.51,748.40 1335.51,759.70 1321.51,759.70" fill="#000"/>
<line x1="1415.84" y1="761.17" x2="1427.14" y2="761.17" stroke="#000" stroke-width="2.1" stroke-linecap="butt"/>
<line x1="1415.84" y1="780.76" x2="1427.14" y2="780.76" stroke="#000" stroke-width="2.1" stroke-linecap="butt"/>
<line x1="1421.49" y1="761.17" x2="1421.49" y2="765.46" stroke="#000" stroke-width="2.6" stroke-linecap="butt"/>
<line x1="1421.49" y1="776.76" x2="1421.49" y2="780.76" stroke="#000" stroke-width="2.6" stroke-linecap="butt"/>
<polygon points="1421.49,763.43 1428.49,774.73 1414.49,774.73" fill="#000"/>
<line x1="1468.75" y1="851.00" x2="1480.05" y2="851.00" stroke="#000" stroke-width="2.1" stroke-linecap="butt"/>
<line x1="1468.75" y1="870.83" x2="1480.05" y2="870.83" stroke="#000" stroke-width="2.1" stroke-linecap="butt"/>
<line x1="1474.40" y1="851.00" x2="1474.40" y2="855.41" stroke="#000" stroke-width="2.6" stroke-linecap="butt"/>
<line x1="1474.40" y1="866.71" x2="1474.40" y2="870.83" stroke="#000" stroke-width="2.6" stroke-linecap="butt"/>
<polygon points="1474.40,853.38 1481.40,864.68 1467.40,864.68" fill="#000"/>
<line x1="1602.30" y1="856.05" x2="1613.60" y2="856.05" stroke="#000" stroke-width="2.1" stroke-linecap="butt"/>
<line x1="1602.30" y1="895.97" x2="1613.60" y2="895.97" stroke="#000" stroke-width="2.1" stroke-linecap="butt"/>
<line x1="1607.95" y1="856.05" x2="1607.95" y2="870.51" stroke="#000" stroke-width="2.6" stroke-linecap="butt"/>
<line x1="1607.95" y1="881.81" x2="1607.95" y2="895.97" stroke="#000" stroke-width="2.6" stroke-linecap="butt"/>
<polygon points="1607.95,868.48 1614.95,879.78 1600.95,879.78" fill="#000"/>
</svg>
</body>
</html>
